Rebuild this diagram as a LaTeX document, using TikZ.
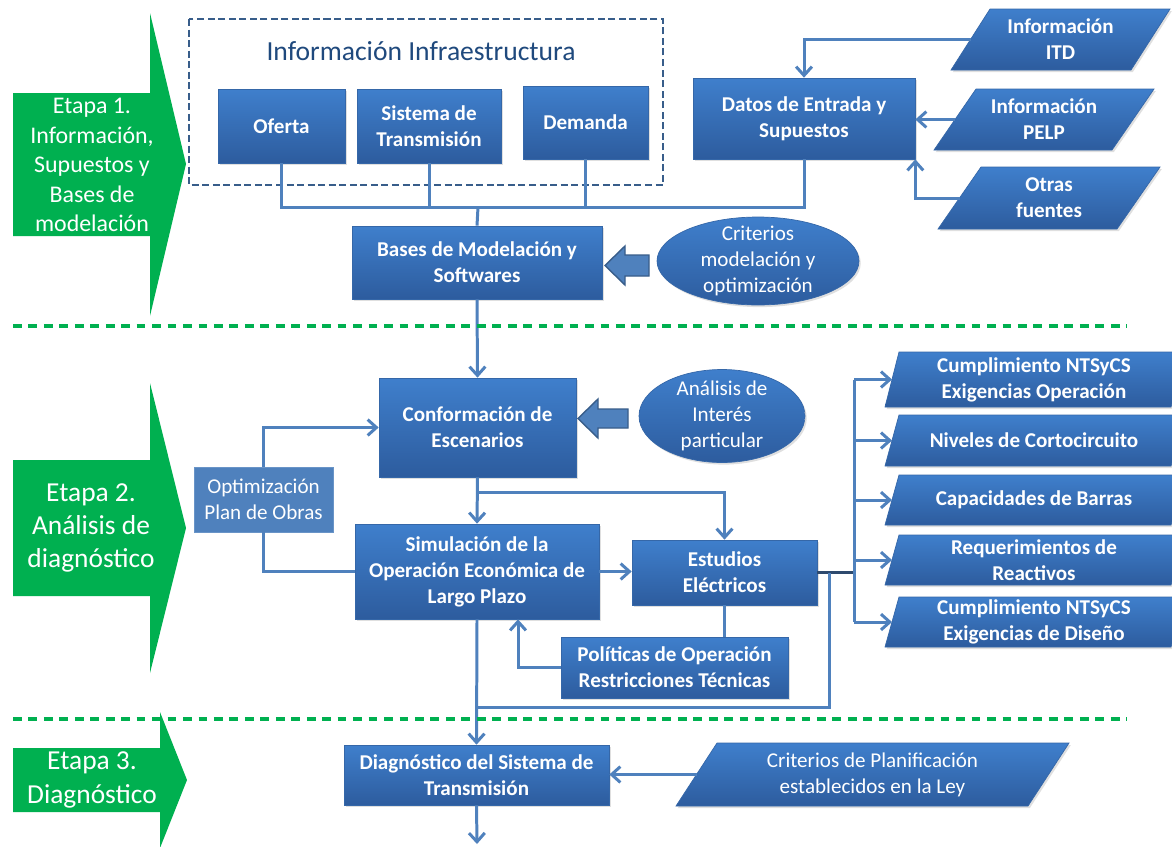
\documentclass[tikz,border=0pt]{standalone}
\usepackage{fontspec}
\setmainfont{Carlito}
\usepackage{tikz}
\usetikzlibrary{arrows.meta,shapes.geometric,shadows,calc}

\definecolor{boxtop}{HTML}{3F7FCC}
\definecolor{boxbot}{HTML}{2D5C9E}
\definecolor{boxedge}{HTML}{3567A8}
\definecolor{linecol}{HTML}{4F81BD}
\definecolor{linedark}{HTML}{2E4A6E}
\definecolor{etapa}{HTML}{00B050}
\definecolor{titlecol}{HTML}{1F497D}
\definecolor{framecol}{HTML}{385D8A}

\begin{document}
\begin{tikzpicture}[x=0.02cm, y=-0.02cm,
  shad/.style={drop shadow={opacity=0.25, shadow xshift=1pt, shadow yshift=-1.2pt}},
  box/.style={rectangle, draw=boxedge, line width=0.4pt, top color=boxtop, bottom color=boxbot,
    text=white, align=center, inner sep=1pt, shad,
    font=\bfseries\fontsize{12}{14.8}\selectfont},
  oval/.style={ellipse, draw=boxedge, line width=0.4pt, top color=boxtop, bottom color=boxbot,
    text=white, align=center, inner xsep=0pt, inner ysep=-4pt, shad,
    font=\fontsize{12}{14.8}\selectfont},
  optbox/.style={rectangle, fill=linecol, draw=linecol!85!white, text=white, align=center,
    inner sep=1pt, font=\fontsize{12}{14.8}\selectfont},
  para/.style={draw=boxedge, line width=0.4pt, top color=boxtop, bottom color=boxbot, shad},
  paratext/.style={text=white, align=center, font=\bfseries\fontsize{12}{14.8}\selectfont},
  conn/.style={draw=linecol, line width=1.7pt},
  arr/.style={conn, -{Straight Barb[length=5pt,width=9pt]}},
  fat/.style={fill=linecol, draw=framecol, line width=0.8pt},
  stage/.style={fill=etapa},
  stagetext/.style={text=white, align=center},
  sep/.style={draw=etapa, line width=2.3pt, dash pattern=on 5pt off 3.8pt}]

\fill[white] (0,0) rectangle (1172,846);
\useasboundingbox (0,0) rectangle (1172,846);
\clip (0,0) rectangle (1172,846);

% etapas
\fill[stage] (13,93) -- (150,93) -- (150,13) -- (186,164) -- (150,316) -- (150,236) -- (13,236) -- cycle;
\node[stagetext, font=\fontsize{13.6}{16.8}\selectfont] (et1) at (92,165)
  {Etapa 1.\\Información,\\Supuestos y\\Bases de\\modelación};
\fill[stage] (13,460) -- (150,460) -- (150,383) -- (186,528) -- (150,673) -- (150,596) -- (13,596) -- cycle;
\node[stagetext, font=\fontsize{15.6}{18.8}\selectfont] (et2) at (91,528)
  {Etapa 2.\\Análisis de\\diagnóstico};
\fill[stage] (13,748) -- (160,748) -- (160,712) -- (187,780) -- (160,848) -- (160,812) -- (13,812) -- cycle;
\node[stagetext, font=\fontsize{15.6}{19.4}\selectfont] (et3) at (92,780)
  {Etapa 3.\\Diagnóstico};

% etapa 1
\draw[framecol, line width=1.4pt, dash pattern=on 4pt off 2pt] (189,19) rectangle (663,185);
\node[anchor=base, text=titlecol, font=\fontsize{15.7}{18}\selectfont] (infra) at (421,60)
  {Información Infraestructura};
\node[box, minimum width=2.54cm, minimum height=1.48cm] (oferta) at (281.5,126) {Oferta};
\node[box, minimum width=2.88cm, minimum height=1.48cm] (sistema) at (429,126) {Sistema de\\Transmisión};
\node[box, minimum width=2.50cm, minimum height=1.46cm] (demanda) at (585.5,122.5) {Demanda};
\node[box, minimum width=4.44cm, minimum height=1.62cm] (datos) at (804,118.5) {Datos de Entrada y\\Supuestos};
\node[box, minimum width=5.00cm, minimum height=1.46cm] (bases) at (477,262.5) {Bases de Modelación y\\Softwares};
\node[oval, minimum width=4.04cm, minimum height=1.76cm] (crit) at (758,261) {Criterios\\modelación y\\optimización};

\foreach \n/\xl/\yt/\yb/\d/\w/\txt in {
    itd/951/9/70/39/180/{Información\\ITD},
    pelp/934/89/150/42/178/{Información\\PELP},
    otras/938/167/229/43/179/{Otras\\fuentes}} {
  \path[para] (\xl,\yb) -- ++(\d,\yt-\yb) -- ++(\w,0) -- ++(-\d,\yb-\yt) -- cycle;
  \node[paratext] (\n) at ({\xl+(\d+\w)/2},{(\yt+\yb)/2}) {\txt};
  \coordinate (\n-w) at ({\xl+\d/2},{(\yt+\yb)/2});
}

\coordinate (jn1) at (478,207);
\draw[conn] (oferta.south) |- (jn1) -| (datos.south);
\draw[conn] (sistema.south) -- (sistema.south |- jn1);
\draw[conn] (demanda.south) -- (demanda.south |- jn1);
\draw[conn] (jn1) -- (bases.north);
\draw[arr] (itd-w) -| (datos.north);
\draw[arr] (pelp-w) -- (pelp-w -| datos.east);
\draw[arr] (otras-w) -| (datos.south east);
\path[fat] (605,265.5) -- (625,246) -- (625,255) -- (649,255) -- (649,276) -- (625,276) -- (625,285) -- cycle;

% etapa 2
\node[box, minimum width=3.94cm, minimum height=1.98cm] (conform) at (477.5,427.5) {Conformación de\\Escenarios};
\node[oval, minimum width=3.32cm, minimum height=1.86cm] (anal) at (722,416) {Análisis de\\Interés\\particular};
\node[optbox, minimum width=2.78cm, minimum height=1.30cm] (optim) at (263.5,499.5) {Optimización\\Plan de Obras};
\node[box, minimum width=4.88cm, minimum height=1.90cm] (simul) at (477,571.5) {Simulación de la\\Operación Económica de\\Largo Plazo};
\node[box, minimum width=3.70cm, minimum height=1.30cm] (estud) at (724.5,572.5) {Estudios\\Eléctricos};
\node[box, minimum width=4.54cm, minimum height=1.22cm] (polit) at (674.5,667.5) {Políticas de Operación\\Restricciones Técnicas};

\foreach \n/\yt/\yb/\txt in {
    p1/352/407/{Cumplimiento NTSyCS\\Exigencias Operación},
    p2/415/466/{Niveles de Cortocircuito},
    p3/475/525/{Capacidades de Barras},
    p4/535/585/{Requerimientos de\\Reactivos},
    p5/597/647/{Cumplimiento NTSyCS\\Exigencias de Diseño}} {
  \path[para] (885,\yb) -- (899,\yt) -- (1185,\yt) -- (1171,\yb) -- cycle;
  \node[paratext] (\n) at (1034,{(\yt+\yb)/2}) {\txt};
  \coordinate (\n-w) at (892,{(\yt+\yb)/2});
}

\draw[arr] (bases.south) -- (conform.north);
\path[fat] (578,418.5) -- (598,399) -- (598,409) -- (628,409) -- (628,428) -- (598,428) -- (598,438) -- cycle;
\draw[arr] (optim.north) |- (conform.west);
\draw[conn] (optim.south) |- (simul.west);
\coordinate (jn2) at (477.5,492);
\draw[arr] (conform.south) -- (simul.north);
\draw[arr] (jn2) -| (estud.north);
\draw[arr] (simul.east) -- (simul.east -| estud.west);
\draw[conn] (estud.south) -- (estud.south |- polit.north);
\draw[arr] (polit.west) -| ($(simul.south)+(41,0)$);
\coordinate (bus) at (854,574);
\draw[conn, draw=linedark] (estud.east) -- (estud.east -| bus);
\draw[conn] (bus |- p1-w) -- (bus |- p5-w);
\foreach \n in {p1,p2,p3,p4,p5}
  \draw[arr] (bus |- \n-w) -- (\n-w);
\coordinate (jn3) at (478,707);
\draw[conn] (jn3) -| ($(estud.east)+(12,0)$);

% etapa 3
\node[box, minimum width=5.30cm, minimum height=1.20cm] (diag) at (476.5,775) {Diagnóstico del Sistema de\\Transmisión};
\path[para] (676,806) -- (717,743) -- (1069,743) -- (1028,806) -- cycle;
\node[paratext, font=\fontsize{12}{14.8}\selectfont] (critplan) at (872.5,774.5)
  {Criterios de Planificación\\establecidos en la Ley};
\coordinate (critplan-w) at (696.5,774.5);
\draw[arr] (simul.south) -- (diag.north);
\draw[arr] (critplan-w) -- (critplan-w -| diag.east);
\coordinate (fin) at (477,844);
\draw[arr] (diag.south) -- (fin);

\draw[sep] (13,326) -- (1127,326);
\draw[sep] (13,719) -- (1127,719);
\end{tikzpicture}
\end{document}
